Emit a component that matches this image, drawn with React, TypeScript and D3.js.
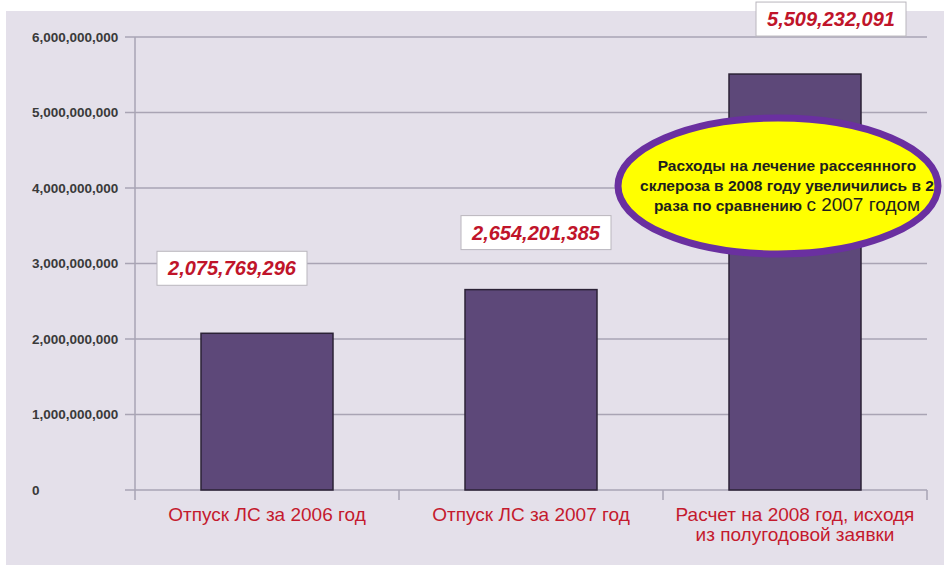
import { FC, useEffect, useRef } from 'react';
import * as d3 from 'd3';

const categories = ['2006', '2007', '2008'];
const categoryLabels = [
  ['Отпуск ЛС за 2006 год'],
  ['Отпуск ЛС за 2007 год'],
  ['Расчет на 2008 год, исходя', 'из полугодовой заявки'],
];
const values = [2075769296, 2654201385, 5509232091];
const yTicks = [0, 1e9, 2e9, 3e9, 4e9, 5e9, 6e9];
const noteLines = [
  [{ t: 'Расходы на лечение рассеянного', big: false }],
  [{ t: 'склероза в 2008 году увеличились в 2', big: false }],
  [{ t: 'раза по сравнению ', big: false }, { t: 'с 2007 годом', big: true }],
];

// hand placement of the value boxes (offset from bar centre / bar top)
const boxDx = [-35, 5, 36];
const boxDy = [-65, -57, -55];

const FONT = '"Liberation Sans", Arial, sans-serif';

const App: FC = () => {
  const svgRef = useRef<SVGSVGElement>(null);

  useEffect(() => {
    if (!svgRef.current) return;
    const svg = d3.select(svgRef.current);
    svg.selectAll('*').remove();

    const W = 944;
    const H = 567;

    // panel background
    svg.append('rect').attr('width', W).attr('height', H).attr('fill', '#ffffff');
    svg.append('rect')
      .attr('x', 6).attr('y', 11)
      .attr('width', W - 6).attr('height', 554)
      .attr('fill', '#e4e0ea');

    const x = d3.scaleBand<string>()
      .domain(categories)
      .range([135, 927])
      .paddingInner(0.5)
      .paddingOuter(0.25);

    const y = d3.scaleLinear()
      .domain([0, 6e9])
      .range([490, 37]);

    const gridColor = '#a9a4b4';

    // grid lines
    svg.append('g')
      .selectAll('line')
      .data(yTicks)
      .enter()
      .append('line')
      .attr('x1', 125)
      .attr('x2', 927)
      .attr('y1', d => y(d))
      .attr('y2', d => y(d))
      .attr('stroke', gridColor)
      .attr('stroke-width', 1.5);

    // y axis line
    svg.append('line')
      .attr('x1', 135).attr('x2', 135)
      .attr('y1', y(6e9)).attr('y2', y(0) + 10)
      .attr('stroke', gridColor)
      .attr('stroke-width', 1.5);

    // category boundary ticks
    const step = x.step();
    const bounds = categories.map((c, i) => 135 + step * (i + 1));
    svg.append('g')
      .selectAll('line')
      .data(bounds)
      .enter()
      .append('line')
      .attr('x1', d => d).attr('x2', d => d)
      .attr('y1', y(0)).attr('y2', y(0) + 10)
      .attr('stroke', gridColor)
      .attr('stroke-width', 1.5);

    // y tick labels
    svg.append('g')
      .selectAll('text')
      .data(yTicks)
      .enter()
      .append('text')
      .attr('x', 32)
      .attr('y', d => y(d))
      .attr('dy', '0.36em')
      .style('font-family', FONT)
      .style('font-size', '13.5px')
      .style('font-weight', 'bold')
      .style('fill', '#3a3a3a')
      .text(d => d3.format(',')(d));

    // bars
    svg.append('g')
      .selectAll('rect')
      .data(values)
      .enter()
      .append('rect')
      .attr('x', (d, i) => x(categories[i]) as number)
      .attr('y', d => y(d))
      .attr('width', x.bandwidth())
      .attr('height', d => y(0) - y(d))
      .attr('fill', '#5d4879')
      .attr('stroke', '#2b2236')
      .attr('stroke-width', 1.5);

    // category labels
    categoryLabels.forEach((lines, i) => {
      const cx = (x(categories[i]) as number) + x.bandwidth() / 2;
      lines.forEach((ln, j) => {
        svg.append('text')
          .attr('x', cx)
          .attr('y', 521 + j * 20)
          .attr('text-anchor', 'middle')
          .style('font-family', FONT)
          .style('font-size', '19px')
          .style('fill', '#c41a2e')
          .text(ln);
      });
    });

    // value boxes
    values.forEach((v, i) => {
      const cx = (x(categories[i]) as number) + x.bandwidth() / 2 + boxDx[i];
      const cy = y(v) + boxDy[i];
      svg.append('rect')
        .attr('x', cx - 75)
        .attr('y', cy - 17)
        .attr('width', 150)
        .attr('height', 34)
        .attr('fill', '#ffffff')
        .attr('stroke', '#b9b6bd')
        .attr('stroke-width', 1);
      svg.append('text')
        .attr('x', cx)
        .attr('y', cy)
        .attr('dy', '0.36em')
        .attr('text-anchor', 'middle')
        .style('font-family', FONT)
        .style('font-size', '20px')
        .style('font-weight', 'bold')
        .style('font-style', 'italic')
        .style('fill', '#c0142a')
        .text(d3.format(',')(v));
    });

    // callout ellipse
    const ex = 778;
    const ey = 186;
    svg.append('ellipse')
      .attr('cx', ex).attr('cy', ey)
      .attr('rx', 160).attr('ry', 68)
      .attr('fill', '#ffff00')
      .attr('stroke', '#6a30a0')
      .attr('stroke-width', 7);

    noteLines.forEach((parts, j) => {
      const t = svg.append('text')
        .attr('x', ex + 9)
        .attr('y', 165 + j * 20)
        .attr('dy', '0.36em')
        .attr('text-anchor', 'middle')
        .style('font-family', FONT)
        .style('fill', '#1e1e1e');
      parts.forEach(p => {
        t.append('tspan')
          .style('font-size', p.big ? '19px' : '15.5px')
          .style('font-weight', p.big ? 'normal' : 'bold')
          .text(p.t);
      });
    });
  }, []);

  return (
    <div style={{ position: 'absolute', left: 0, top: 0 }}>
      <svg ref={svgRef} width={944} height={567} style={{ display: 'block' }}></svg>
    </div>
  );
};

export default App;
